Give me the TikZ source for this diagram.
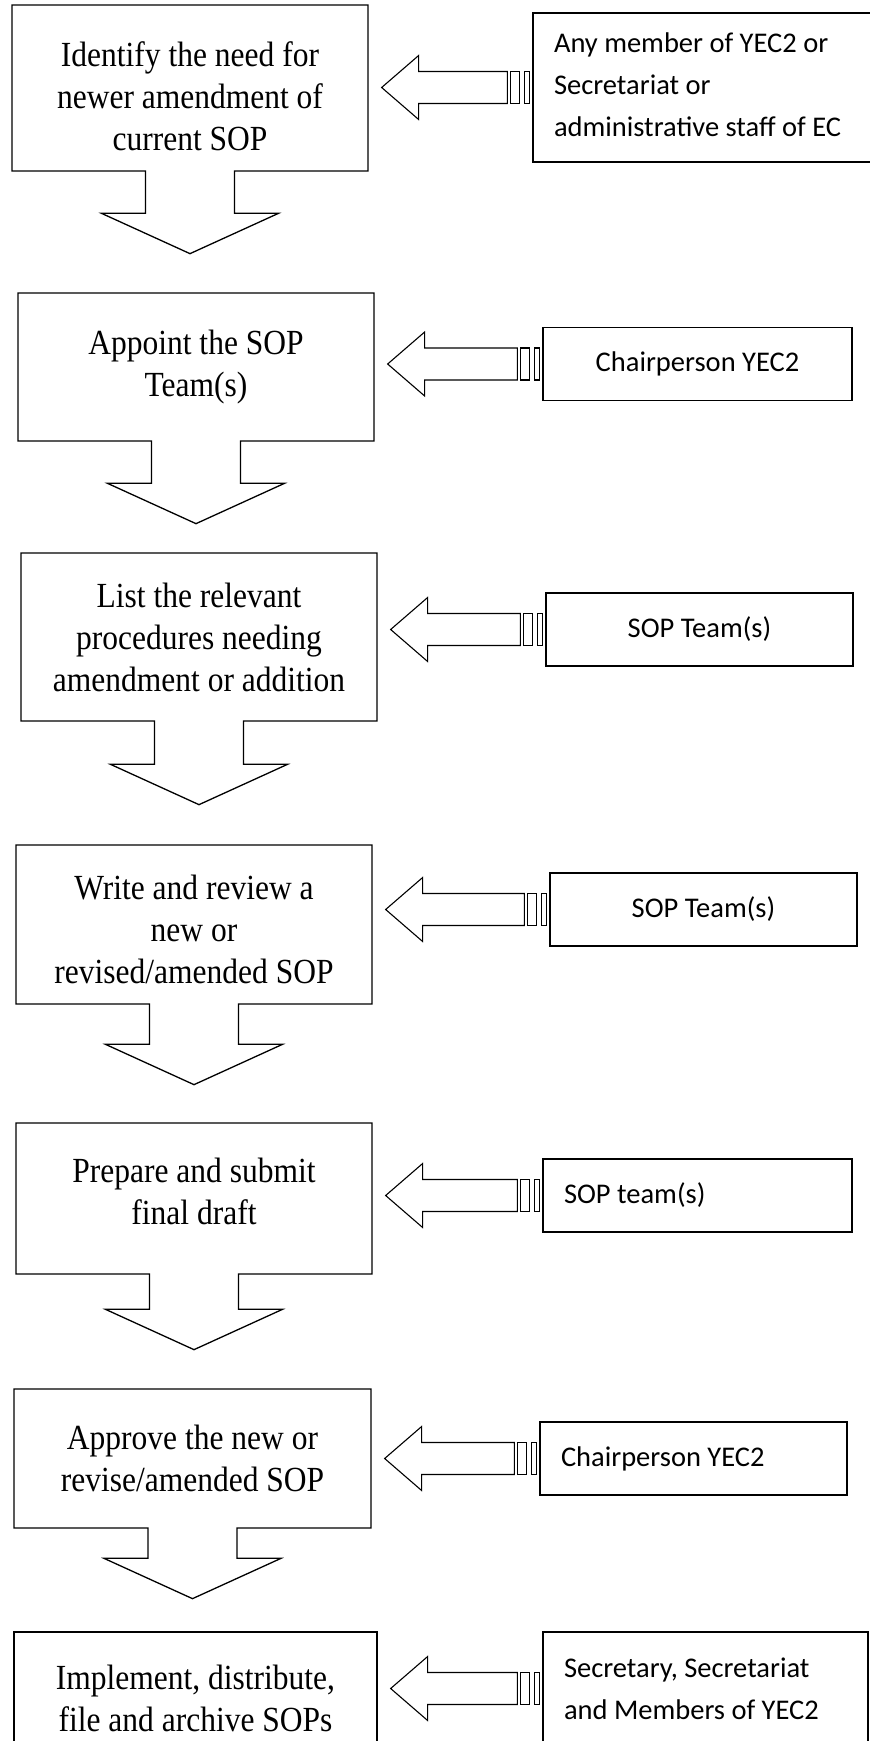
\documentclass[tikz,border=0pt]{standalone}
\usepackage{fontspec}
\setmainfont{Liberation Serif}
\newfontfamily\calibri{Carlito}
\usepackage{graphicx}
\usepackage{tikz}
\usetikzlibrary{shapes,arrows,positioning,calc}

\newcommand{\tallline}[2][0pt]{\raisebox{#1}[\height][\depth]{\scalebox{1}[1.12]{#2}}}
\newcommand{\feedarrow}[2]{%
  \coordinate (tl) at ($(#1.west)+(-3,0)$);
  \coordinate (hd) at ($(#2.east |- #1.west)+(13,0)$);
  \draw [feedline] (hd) -- ($(hd)+(37,-32)$) -- ($(hd)+(37,-16)$) -- ($(tl)+(-22,-16)$)
    -- ($(tl)+(-22,16)$) -- ($(hd)+(37,16)$) -- ($(hd)+(37,32)$) -- cycle;
  \draw [feedline] ($(tl)+(-19,-16)$) rectangle ($(tl)+(-10,16)$);
  \draw [feedline] ($(tl)+(-5,-16)$) rectangle ($(tl)+(0,16)$);
}

\begin{document}
\begin{tikzpicture}[x=1pt, y=-1pt,
    stepbox/.style={shape=arrow box, draw, line width=1.3pt, align=center,
      font=\fontsize{31.5}{42}\selectfont, minimum width=356pt,
      arrow box shaft width=89pt, arrow box head extend=44pt, arrow box tip angle=131},
    whobox/.style={rectangle, draw, line width=1.3pt, minimum height=73pt,
      font=\calibri\fontsize{28.5}{42}\selectfont},
    feedline/.style={line width=1.1pt}]
    \useasboundingbox (0,0) rectangle (870,1741);

    \node (step1) [stepbox, minimum height=166pt, arrow box arrows={south:82pt}] at (190,88) {\tallline[-8pt]{Identify the need for}\\\tallline[-8pt]{newer amendment of}\\\tallline[-8pt]{current SOP}};
    \node (step2) [stepbox, minimum height=148pt, arrow box arrows={south:82pt}] at (196,367) {\tallline{Appoint the SOP}\\\tallline{Team(s)}};
    \node (step3) [stepbox, minimum height=168pt, arrow box arrows={south:83pt}] at (199,637) {\tallline{List the relevant}\\\tallline{procedures needing}\\\tallline{amendment or addition}};
    \node (step4) [stepbox, minimum height=159pt, arrow box arrows={south:80pt}] at (194,924.5) {\tallline[-5pt]{Write and review a}\\\tallline[-5pt]{new or}\\\tallline[-5pt]{revised/amended SOP}};
    \node (step5) [stepbox, minimum height=151pt, arrow box arrows={south:75pt}] at (194,1198.5) {\tallline[7pt]{Prepare and submit}\\\tallline[7pt]{final draft}};
    \node (step6) [stepbox, minimum height=139pt, minimum width=357pt, arrow box arrows={south:70pt}] at (192.5,1458.5) {\tallline{Approve the new or}\\\tallline{revise/amended SOP}};
    \node (step7) [rectangle, draw, line width=1.3pt, align=center, font=\fontsize{31.5}{42}\selectfont,
      minimum width=363pt, minimum height=132pt] at (195.5,1698) {\tallline{Implement, distribute,}\\\tallline{file and archive SOPs}};

    \node (who1) [whobox, minimum height=149pt, text width=325pt, inner xsep=21pt, align=flush left] at (716.5,87.5) {\raisebox{5pt}{Any member of YEC2 or}\\\raisebox{5pt}{Secretariat or}\\\raisebox{5pt}{administrative staff of EC}};
    \node (who2) [whobox, minimum width=309pt] at (697.5,364) {Chairperson YEC2};
    \node (who3) [whobox, minimum width=307pt] at (699.5,629.5) {SOP Team(s)};
    \node (who4) [whobox, minimum width=307pt] at (703.5,909.5) {SOP Team(s)};
    \node (who5) [whobox, text width=267pt, inner xsep=21pt, align=flush left] at (697.5,1195.5) {SOP team(s)};
    \node (who6) [whobox, text width=265pt, inner xsep=21pt, align=flush left] at (693.5,1458.5) {Chairperson YEC2};
    \node (who7) [whobox, minimum height=113pt, text width=283pt, inner xsep=21pt, align=flush left] at (705.5,1688.5) {Secretary, Secretariat\\and Members of YEC2};

    \feedarrow{who1}{step1}
    \feedarrow{who2}{step2}
    \feedarrow{who3}{step3}
    \feedarrow{who4}{step4}
    \feedarrow{who5}{step5}
    \feedarrow{who6}{step6}
    \feedarrow{who7}{step7}
\end{tikzpicture}
\end{document}
